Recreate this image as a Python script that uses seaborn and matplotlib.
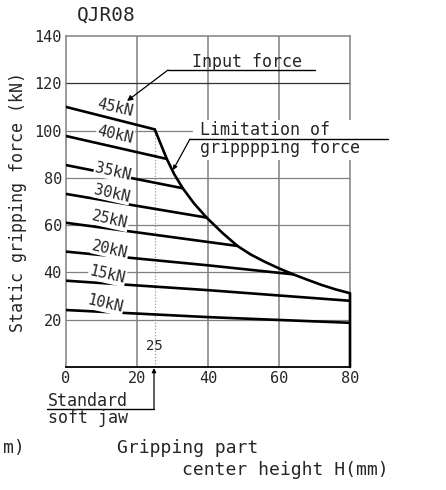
import numpy as np
import pandas as pd
import seaborn as sns
import matplotlib
matplotlib.use("Agg")
import matplotlib.pyplot as plt
from matplotlib.lines import Line2D
from matplotlib.patches import Rectangle

# input force curves (H mm -> static gripping force kN)
forces = ["45kN", "40kN", "35kN", "30kN", "25kN", "20kN", "15kN", "10kN"]
curve_x = [
    [0, 25],
    [0, 28.4],
    [0, 32.9],
    [0, 39.6],
    [0, 48.3],
    [0, 40, 64],
    [0, 40, 80],
    [0, 40, 80],
]
curve_y = [
    [110, 100.5],
    [97.7, 88],
    [85.4, 75.6],
    [73.2, 63.2],
    [61.0, 51.2],
    [48.8, 43.0, 39.2],
    [36.5, 32.5, 28.0],
    [24.1, 21.1, 18.7],
]
# label positions (data coords)
label_x = [13.8, 13.8, 13.2, 12.9, 12.4, 12.4, 11.6, 11.0]
label_y = [109.6, 98.1, 82.6, 73.5, 62.2, 49.8, 38.9, 26.6]

# limitation of gripping force
limit_x = [25, 28.4, 30.5, 32.9, 36, 39.6, 44, 48.3, 52, 56, 60, 64, 68, 72, 76, 80, 80]
limit_y = [100.5, 88, 81.5, 75.6, 69.3, 63.2, 56.8, 51.2, 47.6, 44.5, 41.7, 39.2,
           36.9, 34.7, 32.8, 31.2, 0]

std_jaw = 25
x_ticks = [0, 20, 40, 60, 80]
y_ticks = [20, 40, 60, 80, 100, 120, 140]

rows = []
for f, xs, ys in zip(forces, curve_x, curve_y):
    for i, (x, y) in enumerate(zip(xs, ys)):
        rows.append({"force": f, "H": x, "F": y, "i": i})
df = pd.DataFrame(rows)
df_lim = pd.DataFrame({"H": limit_x, "F": limit_y, "i": range(len(limit_x))})

sns.set_style("white")
plt.rcParams["font.family"] = ["DejaVu Sans Mono", "DejaVu Sans"]

W, H = 446, 490
fig = plt.figure(figsize=(W / 100, H / 100), dpi=100)
ax = fig.add_axes([66 / W, 1 - 367 / H, 284 / W, 331 / H])


def P(px, py):
    return px / W, 1 - py / H


# grid
for xv in x_ticks[1:-1]:
    ax.axvline(xv, color="#808080", lw=1.1, zorder=0.5)
for yv in y_ticks[:-1]:
    ax.axhline(yv, color="#333333" if yv == 120 else "#808080", lw=0.9, zorder=0.5)

ax.plot([std_jaw, std_jaw], [0, limit_y[0]], color="#999999", lw=0.9,
        ls=(0, (1, 1.5)), zorder=0.6)

sns.lineplot(data=df, x="H", y="F", hue="force", units="force", estimator=None,
             sort=False, palette=["black"] * len(forces), legend=False,
             lw=1.9, ax=ax, zorder=2.6)
sns.lineplot(data=df_lim, x="H", y="F", estimator=None, sort=False,
             color="black", lw=1.9, ax=ax, zorder=2.6, clip_on=False)

for f, lx, ly in zip(forces, label_x, label_y):
    ax.text(lx, ly, f, rotation=-13, rotation_mode="anchor", ha="center",
            va="center", fontsize=11, zorder=3,
            bbox=dict(facecolor="white", edgecolor="none", pad=0.6))

ax.text(std_jaw, 9, "25", ha="center", va="center", fontsize=10)

ax.set_xlim(0, 80)
ax.set_ylim(0, 140)
ax.set_xticks(x_ticks)
ax.set_yticks(y_ticks)
ax.tick_params(length=0, labelsize=11, pad=3)
ax.set_xlabel("")
ax.set_ylabel("Static gripping force (kN)", fontsize=12)
ax.yaxis.set_label_coords(-0.137, 0.5)
for side in ["left", "top", "right"]:
    ax.spines[side].set_color("#808080")
    ax.spines[side].set_linewidth(1.1)
ax.spines["bottom"].set_color("black")
ax.spines["bottom"].set_linewidth(1.3)

# title
fig.text(*P(106, 15), "QJR08", ha="center", va="center", fontsize=14)

# input force callout
fig.text(*P(247, 62), "Input force", ha="center", va="center", fontsize=12)
fig.lines.append(Line2D([P(168, 70)[0], P(315, 70)[0]], [P(168, 70)[1]] * 2,
                        transform=fig.transFigure, color="black", lw=1))
ax.annotate("", xy=P(127, 101), xytext=P(168, 70), xycoords="figure fraction",
            textcoords="figure fraction",
            arrowprops=dict(arrowstyle="-|>", color="black", lw=0.9,
                            mutation_scale=8, shrinkA=0, shrinkB=0))

# limitation callout
fig.patches.append(Rectangle(P(193, 160), 200 / W, 40 / H, transform=fig.transFigure,
                             facecolor="white", edgecolor="none", zorder=1))
fig.text(*P(200, 130), "Limitation of", ha="left", va="center", fontsize=12)
fig.text(*P(200, 148), "gripppping force", ha="left", va="center", fontsize=12)
fig.lines.append(Line2D([P(190, 139)[0], P(388, 139)[0]], [P(190, 139)[1]] * 2,
                        transform=fig.transFigure, color="black", lw=1))
ax.annotate("", xy=P(173, 170), xytext=P(190, 139), xycoords="figure fraction",
            textcoords="figure fraction",
            arrowprops=dict(arrowstyle="-|>", color="black", lw=0.9,
                            mutation_scale=6, shrinkA=0, shrinkB=0))

# standard soft jaw
fig.text(*P(48, 401), "Standard", ha="left", va="center", fontsize=12)
fig.text(*P(48, 418), "soft jaw", ha="left", va="center", fontsize=12)
fig.lines.append(Line2D([P(47, 409)[0], P(154, 409)[0]], [P(47, 409)[1]] * 2,
                        transform=fig.transFigure, color="black", lw=1))
ax.annotate("", xy=P(154, 368), xytext=P(154, 409), xycoords="figure fraction",
            textcoords="figure fraction",
            arrowprops=dict(arrowstyle="-|>", color="black", lw=0.9,
                            mutation_scale=6, shrinkA=0, shrinkB=0))

# x axis caption
fig.text(*P(3, 448), "m)", ha="left", va="center", fontsize=13)
fig.text(*P(188, 448), "Gripping part", ha="center", va="center", fontsize=13)
fig.text(*P(285, 470), "center height H(mm)", ha="center", va="center", fontsize=13)

fig.savefig("out.png", dpi=100)
